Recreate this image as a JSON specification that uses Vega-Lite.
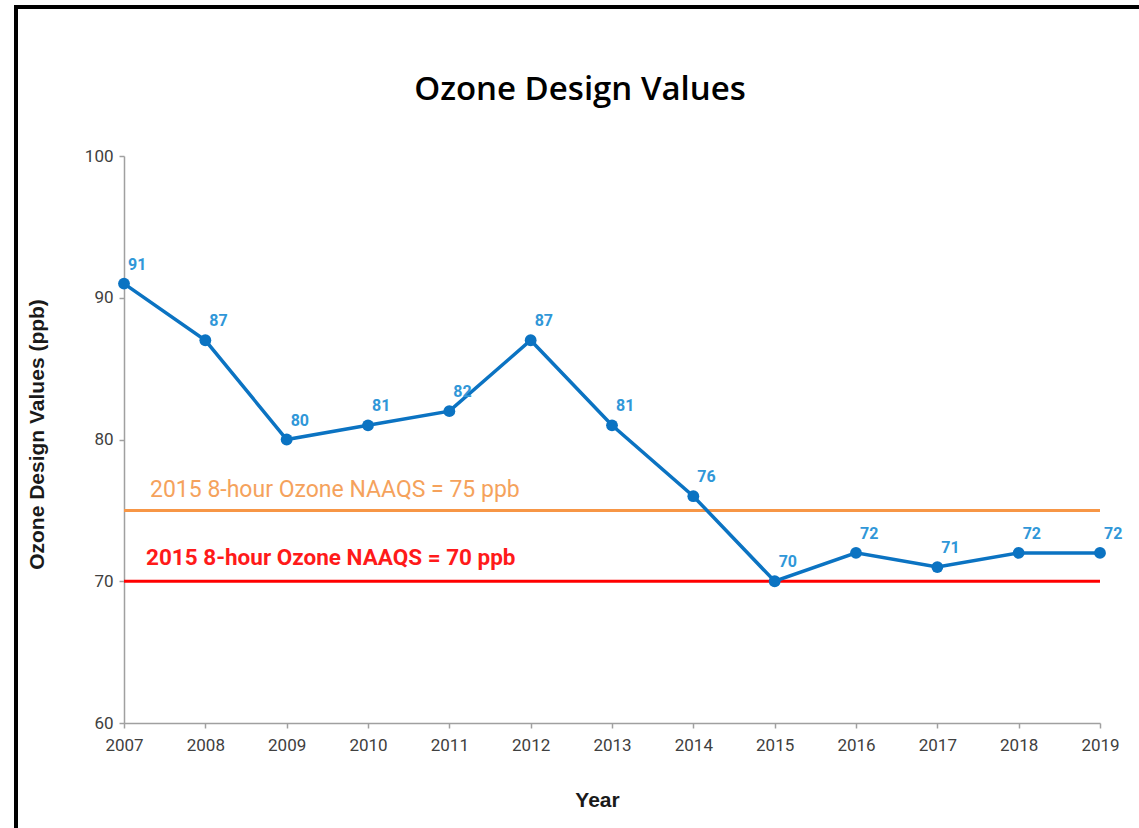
{
  "$schema": "https://vega.github.io/schema/vega-lite/v6.json",
  "autosize": "none",
  "padding": {"left": 16, "top": 7, "right": 0, "bottom": 0},
  "width": 1128,
  "height": 826,
  "background": "white",
  "title": {
    "text": "Ozone Design Values",
    "font": "Open Sans",
    "fontSize": 33,
    "fontWeight": 600,
    "color": "#000000",
    "anchor": "middle",
    "baseline": "middle",
    "offset": -116
  },
  "config": {
    "view": {"stroke": "#000000", "strokeWidth": 4},
    "axis": {
      "grid": false,
      "domainColor": "#a0a0a0",
      "domainWidth": 1.5,
      "tickColor": "#a0a0a0",
      "tickWidth": 1.5,
      "tickSize": 5,
      "labelFont": "Roboto",
      "labelFontSize": 17,
      "labelColor": "#404040",
      "labelFlush": false,
      "titleFont": "Liberation Sans",
      "titleFontWeight": "bold",
      "titleFontSize": 21,
      "titleColor": "#1a1a1a"
    }
  },
  "datasets": {
    "ozone": [
      {"year": 2007, "value": 91},
      {"year": 2008, "value": 87},
      {"year": 2009, "value": 80},
      {"year": 2010, "value": 81},
      {"year": 2011, "value": 82},
      {"year": 2012, "value": 87},
      {"year": 2013, "value": 81},
      {"year": 2014, "value": 76},
      {"year": 2015, "value": 70},
      {"year": 2016, "value": 72},
      {"year": 2017, "value": 71},
      {"year": 2018, "value": 72},
      {"year": 2019, "value": 72}
    ],
    "standards": [
      {"start": 2007, "end": 2019, "level": 75, "label": "2015 8-hour Ozone NAAQS = 75 ppb"},
      {"start": 2007, "end": 2019, "level": 70, "label": "2015 8-hour Ozone NAAQS = 70 ppb"}
    ]
  },
  "layer": [
    {
      "data": {"name": "standards"},
      "transform": [{"filter": "datum.level == 75"}],
      "mark": {"type": "rule", "color": "#f79646", "strokeWidth": 3},
      "encoding": {
        "x": {"field": "start", "type": "quantitative"},
        "x2": {"field": "end"},
        "y": {"field": "level", "type": "quantitative"}
      }
    },
    {
      "data": {"name": "standards"},
      "transform": [{"filter": "datum.level == 70"}],
      "mark": {"type": "rule", "color": "#ff0000", "strokeWidth": 3},
      "encoding": {
        "x": {"field": "start", "type": "quantitative"},
        "x2": {"field": "end"},
        "y": {"field": "level", "type": "quantitative"}
      }
    },
    {
      "data": {"name": "standards"},
      "transform": [{"filter": "datum.level == 75"}],
      "mark": {"type": "text", "align": "left", "baseline": "middle", "dx": 26, "dy": -20, "font": "Roboto", "fontSize": 23, "color": "#f5a25c"},
      "encoding": {
        "x": {"field": "start", "type": "quantitative"},
        "y": {"field": "level", "type": "quantitative"},
        "text": {"field": "label"}
      }
    },
    {
      "data": {"name": "standards"},
      "transform": [{"filter": "datum.level == 70"}],
      "mark": {"type": "text", "align": "left", "baseline": "middle", "dx": 22, "dy": -23, "font": "Roboto", "fontSize": 22.5, "fontWeight": "bold", "color": "#ff1a1a"},
      "encoding": {
        "x": {"field": "start", "type": "quantitative"},
        "y": {"field": "level", "type": "quantitative"},
        "text": {"field": "label"}
      }
    },
    {
      "data": {"name": "ozone"},
      "mark": {"type": "line", "color": "#0b73c2", "strokeWidth": 3.5, "point": {"filled": true, "size": 140, "color": "#0b73c2", "opacity": 1}},
      "encoding": {
        "x": {
          "field": "year",
          "type": "quantitative",
          "scale": {"domain": [2007, 2019], "range": [108, 1084], "zero": false, "nice": false},
          "axis": {
            "orient": "bottom",
            "offset": -110,
            "values": [2007, 2008, 2009, 2010, 2011, 2012, 2013, 2014, 2015, 2016, 2017, 2018, 2019],
            "format": "d",
            "labelPadding": 9,
            "title": "Year",
            "titleX": 581,
            "titlePadding": 36
          }
        },
        "y": {
          "field": "value",
          "type": "quantitative",
          "scale": {"domain": [60, 100], "range": [716, 149], "zero": false, "nice": false},
          "axis": {
            "orient": "left",
            "offset": -108,
            "values": [60, 70, 80, 90, 100],
            "labelPadding": 6,
            "title": "Ozone Design Values (ppb)",
            "titlePadding": 37,
            "titleY": 427
          }
        }
      }
    },
    {
      "data": {"name": "ozone"},
      "mark": {"type": "text", "align": "left", "baseline": "middle", "dx": 4, "dy": -19, "font": "Roboto", "fontSize": 16, "fontWeight": "bold", "color": "#3097d8"},
      "encoding": {
        "x": {"field": "year", "type": "quantitative"},
        "y": {"field": "value", "type": "quantitative"},
        "text": {"field": "value", "type": "quantitative"}
      }
    }
  ]
}
